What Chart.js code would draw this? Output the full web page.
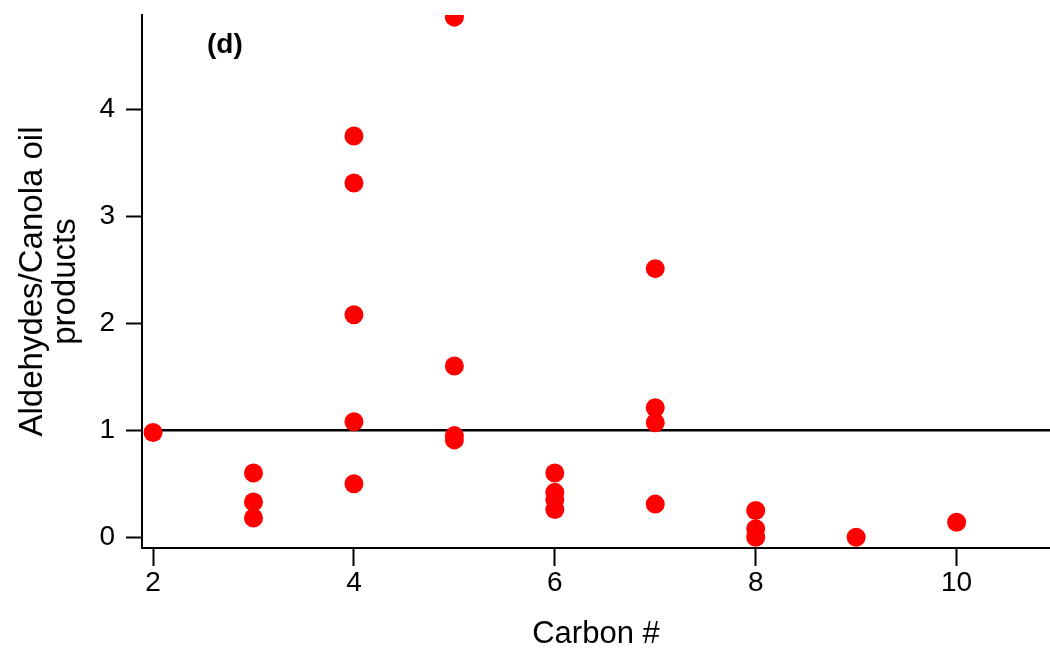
<!DOCTYPE html>
<html>
<head>
<meta charset="utf-8">
<script src="https://cdn.jsdelivr.net/npm/chart.js@4.4.1/dist/chart.umd.min.js"></script>
<style>
  html, body { margin: 0; padding: 0; background: #fff; }
  #wrap { width: 1050px; height: 648px; position: relative; }
</style>
</head>
<body>
<div id="wrap"><canvas id="scatterChart"></canvas></div>
<script>
// Aldehydes / canola oil products vs carbon number
const carbonNums = [2, 3, 3, 3, 4, 4, 4, 4, 4, 5, 5, 5, 5, 6, 6, 6, 6, 7, 7, 7, 7, 8, 8, 8, 9, 10];
const ratios = [0.98, 0.60, 0.33, 0.18, 3.75, 3.31, 2.08, 1.08, 0.50, 4.86, 1.60, 0.95, 0.91,
                0.60, 0.42, 0.35, 0.26, 2.51, 1.21, 1.07, 0.31, 0.25, 0.08, 0.0, 0.0, 0.14];
const refLineX = [2, 11];
const refLineY = [1, 1];
const xTicks = [2, 4, 6, 8, 10];
const yTicks = [0, 1, 2, 3, 4];

const points = carbonNums.map((c, i) => ({ x: c, y: ratios[i] }));
const refLine = refLineX.map((x, i) => ({ x: x, y: refLineY[i] }));

const font = 'Liberation Sans, Arial, sans-serif';

// panel label "(d)"
const panelLabel = {
    id: 'panelLabel',
    afterDraw(chart) {
        const ctx = chart.ctx;
        ctx.save();
        ctx.font = 'bold 28px ' + font;
        ctx.fillStyle = '#000';
        ctx.textBaseline = 'middle';
        ctx.fillText('(d)', 207, 45);
        ctx.restore();
    }
};

const ctx = document.getElementById("scatterChart");
new Chart(ctx, {
    type: "scatter",
    data: {
        datasets: [{
            label: "ref",
            data: refLine,
            showLine: true,
            borderColor: '#000',
            borderWidth: 2.5,
            pointRadius: 0,
            order: 2
        }, {
            label: "Aldehydes",
            data: points,
            backgroundColor: '#ff0000',
            borderWidth: 0,
            pointRadius: 9.5,
            order: 1
        }]
    },
    options: {
        responsive: true,
        maintainAspectRatio: false,
        animation: false,
        layout: { autoPadding: false, padding: { top: 15, right: 0, left: 0, bottom: 0 } },
        plugins: {
            legend: { display: false },
            tooltip: { enabled: false }
        },
        scales: {
            x: {
                type: 'linear',
                min: 1.89,
                max: 10.93,
                afterBuildTicks: (axis) => { axis.ticks = xTicks.map(v => ({ value: v })); },
                afterFit: (axis) => { axis.height = 100; axis.paddingLeft = 0; axis.paddingRight = 0; },
                border: { color: '#000', width: 2 },
                grid: { drawOnChartArea: false, drawTicks: true, tickLength: 18, tickWidth: 2, color: '#000' },
                ticks: { color: '#000', font: { family: font, size: 28 }, padding: 0 },
                title: {
                    display: true,
                    text: 'Carbon #',
                    color: '#000',
                    font: { family: font, size: 31, lineHeight: 0.9 },
                    padding: 0
                }
            },
            y: {
                min: -0.1,
                max: 4.88,
                afterBuildTicks: (axis) => { axis.ticks = yTicks.map(v => ({ value: v })); },
                afterFit: (axis) => { axis.width = 142; axis.paddingTop = 0; axis.paddingBottom = 0; },
                border: { color: '#000', width: 2 },
                grid: { drawOnChartArea: false, drawTicks: true, tickLength: 16, tickWidth: 2, color: '#000' },
                ticks: { color: '#000', font: { family: font, size: 28 }, padding: 11 },
                title: {
                    display: true,
                    text: ['Aldehydes/Canola oil', 'products'],
                    color: '#000',
                    font: { family: font, size: 33, lineHeight: 1.0 },
                    padding: { top: 16, bottom: 0 }
                }
            }
        }
    },
    plugins: [panelLabel]
});
</script>
</body>
</html>
